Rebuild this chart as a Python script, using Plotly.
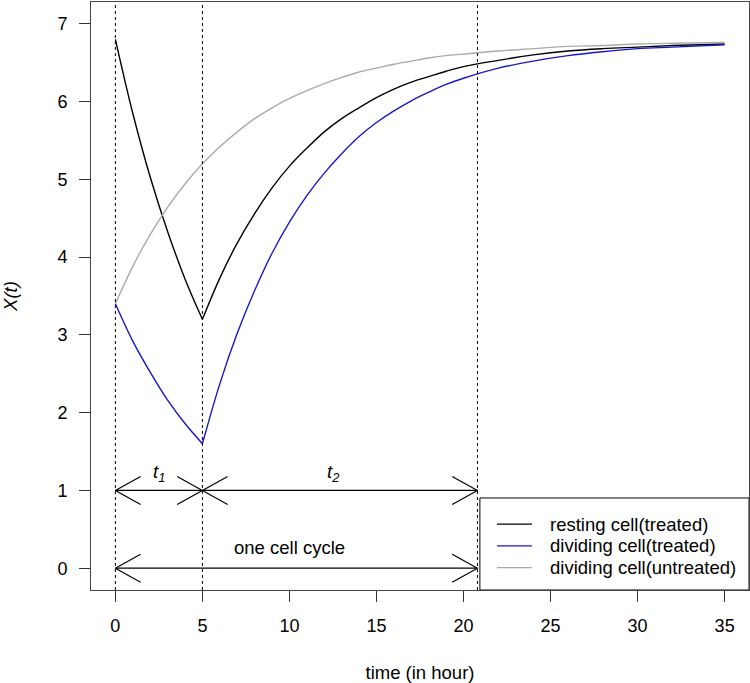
import plotly.graph_objects as go

# ---- data ----
t_hours = [0, 1, 2, 3, 4, 5, 6, 7, 8, 9, 10, 11, 12, 13, 14, 15, 16, 17, 18, 19, 20,
           22, 24, 26, 28, 30, 32, 35]
resting_treated = [6.80, 5.85, 5.03, 4.33, 3.72, 3.20, 3.73, 4.18, 4.56, 4.89, 5.17, 5.40, 5.61,
                   5.78, 5.92, 6.05, 6.16, 6.25, 6.32, 6.39, 6.45,
                   6.53, 6.60, 6.65, 6.68, 6.70, 6.72, 6.74]
dividing_treated = [3.40, 2.92, 2.52, 2.16, 1.86, 1.60, 2.37, 3.02, 3.57, 4.05, 4.45, 4.79, 5.08,
                    5.33, 5.55, 5.73, 5.88, 6.01, 6.12, 6.22, 6.30,
                    6.43, 6.52, 6.59, 6.64, 6.68, 6.70, 6.73]
dividing_untreated = [3.40, 3.88, 4.29, 4.64, 4.94, 5.20, 5.42, 5.61, 5.78, 5.92, 6.04, 6.14, 6.23,
                      6.31, 6.38, 6.43, 6.48, 6.52, 6.56, 6.59, 6.61,
                      6.65, 6.68, 6.71, 6.72, 6.74, 6.75, 6.76]
series_names = ["resting cell(treated)", "dividing cell(treated)", "dividing cell(untreated)"]
series_colors = ["black", "#1818c8", "#aaaaaa"]

vlines = [0, 5, 20.8]             # dotted vertical markers
arrows = [(0, 5, 1), (5, 20.8, 1), (0, 20.8, 0)]   # (x_start, x_end, y) double arrows
arrow_labels = [("<i>t</i><sub><i>1</i></sub>", 2.5, 1.22),
                ("<i>t</i><sub><i>2</i></sub>", 12.5, 1.22),
                ("one cell cycle", 10, 0.27)]
x_ticks = [0, 5, 10, 15, 20, 25, 30, 35]
y_ticks = [0, 1, 2, 3, 4, 5, 6, 7]

FONT = "Liberation Sans, Arial, Helvetica, sans-serif"

fig = go.Figure()
split = t_hours.index(5)
lw = 1.4
for name, ys, col in zip(series_names, [resting_treated, dividing_treated, dividing_untreated], series_colors):
    if name == series_names[2]:
        fig.add_trace(go.Scatter(x=t_hours, y=ys, mode="lines", name=name,
                                 line=dict(color=col, width=lw, shape="spline", smoothing=1.0)))
    else:
        fig.add_trace(go.Scatter(x=t_hours[:split + 1], y=ys[:split + 1], mode="lines", name=name,
                                 line=dict(color=col, width=lw, shape="spline", smoothing=1.0)))
        fig.add_trace(go.Scatter(x=t_hours[split:], y=ys[split:], mode="lines", name=name,
                                 line=dict(color=col, width=lw, shape="spline", smoothing=1.0)))

shapes = []
for xv in vlines:
    shapes.append(dict(type="line", xref="x", yref="paper", x0=xv, x1=xv, y0=0, y1=1,
                       line=dict(color="black", width=1, dash="dot")))

head_dx, head_dy = 1.45, 0.18
for x0, x1, yv in arrows:
    shapes.append(dict(type="line", xref="x", yref="y", x0=x0, x1=x1, y0=yv, y1=yv,
                       line=dict(color="black", width=1.2)))
    for xe, sgn in ((x0, 1), (x1, -1)):
        for s in (1, -1):
            shapes.append(dict(type="line", xref="x", yref="y", x0=xe, y0=yv,
                               x1=xe + sgn * head_dx, y1=yv + s * head_dy,
                               line=dict(color="black", width=1.2)))

annotations = [dict(x=x, y=y, xref="x", yref="y", text=txt, showarrow=False,
                    font=dict(family=FONT, size=18.5, color="black"))
               for txt, x, y in arrow_labels]

# legend (box, sample lines and labels) in the lower-right corner
shapes.append(dict(type="rect", xref="paper", yref="paper", x0=0.591, x1=1.0, y0=0, y1=0.1565,
                   line=dict(color="black", width=1), fillcolor="white", layer="below"))
leg_y = [0.112, 0.075, 0.038]
for name, col, ly in zip(series_names, series_colors, leg_y):
    shapes.append(dict(type="line", xref="paper", yref="paper", x0=0.617, x1=0.670, y0=ly, y1=ly,
                       line=dict(color=col, width=lw)))
    annotations.append(dict(x=0.695, y=ly, xref="paper", yref="paper", text=name,
                            xanchor="left", yanchor="middle", showarrow=False,
                            font=dict(family=FONT, size=18.5, color="black")))

fig.update_layout(
    width=750, height=683,
    margin=dict(l=91, r=1, t=2, b=93, autoexpand=False),
    paper_bgcolor="white", plot_bgcolor="white",
    font=dict(family=FONT, size=18, color="black"),
    shapes=shapes, annotations=annotations,
    showlegend=False,
    xaxis=dict(range=[-1.4, 36.4], tickvals=x_ticks, ticks="outside", ticklen=11,
               tickcolor="#333", showgrid=False, zeroline=False,
               showline=True, mirror=True, linecolor="#444", linewidth=1,
               ticklabelstandoff=8, tickfont=dict(size=18),
               title=dict(text="time (in hour)", standoff=31, font=dict(size=18.5))),
    yaxis=dict(range=[-0.28, 7.28], tickvals=y_ticks, ticks="outside", ticklen=11,
               tickcolor="#333", showgrid=False, zeroline=False,
               showline=True, mirror=True, linecolor="#444", linewidth=1,
               ticklabelstandoff=8, tickfont=dict(size=18),
               title=dict(text="<i>X(t)</i>", standoff=34, font=dict(size=18.5))),
)

fig.write_html("out.html", config={"displayModeBar": False},
               post_script="document.body.style.margin='0';document.body.style.overflow='hidden';")
